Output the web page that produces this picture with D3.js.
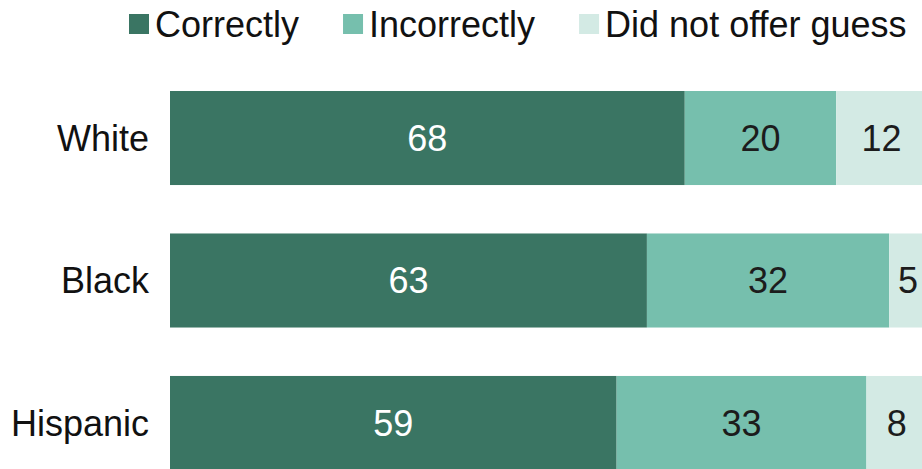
<!DOCTYPE html>
<html>
<head>
<meta charset="utf-8">
<script src="https://cdn.jsdelivr.net/npm/d3@7"></script>
<style>
  body { margin: 0; background: #fff; }
  svg { display: block; }
  text { font-family: "Liberation Sans", Arial, sans-serif; }
</style>
</head>
<body>
<div id="chart"></div>
<script>
// data
var groups = ["White", "Black", "Hispanic"];
var seriesNames = ["Correctly", "Incorrectly", "Did not offer guess"];
var correctly = [68, 63, 59];
var incorrectly = [20, 32, 33];
var noGuess = [12, 5, 8];

var width = 922, height = 469;
var colors = ["#3a7563", "#76bfad", "#d3eae4"];
var textColors = ["#ffffff", "#1c1c1c", "#1c1c1c"];

var rows = groups.map(function (g, i) {
    return { group: g, Correctly: correctly[i], Incorrectly: incorrectly[i], "Did not offer guess": noGuess[i] };
});

var svg = d3.select("#chart").append("svg")
    .attr("width", width)
    .attr("height", height);

var x = d3.scaleLinear().domain([0, 100]).range([170, 927]);
var y = d3.scaleBand().domain(groups).range([91, 470]).paddingInner(0.34).paddingOuter(0);
var color = d3.scaleOrdinal().domain(seriesNames).range(colors);

var stacked = d3.stack().keys(seriesNames)(rows);

var layer = svg.selectAll(".layer")
    .data(stacked)
    .enter().append("g")
    .attr("class", "layer");

layer.selectAll("rect")
    .data(function (d) { return d; })
    .enter().append("rect")
    .attr("x", function (d) { return x(d[0]); })
    .attr("y", function (d) { return y(d.data.group); })
    .attr("width", function (d) { return x(d[1]) - x(d[0]); })
    .attr("height", y.bandwidth())
    .style("fill", function () { return color(d3.select(this.parentNode).datum().key); });

layer.each(function (s, si) {
    d3.select(this).selectAll("text")
        .data(s)
        .enter().append("text")
        .attr("x", function (d) { return (x(d[0]) + x(d[1])) / 2; })
        .attr("y", function (d) { return y(d.data.group) + y.bandwidth() / 2; })
        .attr("dy", "0.36em")
        .attr("text-anchor", "middle")
        .style("font-size", "36px")
        .style("fill", textColors[si])
        .text(function (d) { return d[1] - d[0]; });
});

// category labels
svg.selectAll(".cat")
    .data(groups)
    .enter().append("text")
    .attr("class", "cat")
    .attr("x", 149)
    .attr("y", function (d) { return y(d) + y.bandwidth() / 2; })
    .attr("dy", "0.36em")
    .attr("text-anchor", "end")
    .style("font-size", "36px")
    .style("fill", "#111")
    .text(function (d) { return d; });

// legend
var legend = svg.append("g").attr("class", "legend");
var lx = 129;
seriesNames.forEach(function (name) {
    var item = legend.append("g").attr("transform", "translate(" + lx + ",0)");
    item.append("rect")
        .attr("x", 0).attr("y", 14)
        .attr("width", 20).attr("height", 20)
        .style("fill", color(name));
    var t = item.append("text")
        .attr("x", 26).attr("y", 37)
        .style("font-size", "36px")
        .style("fill", "#111")
        .text(name);
    lx += 26 + t.node().getComputedTextLength() + 44;
});
</script>
</body>
</html>
